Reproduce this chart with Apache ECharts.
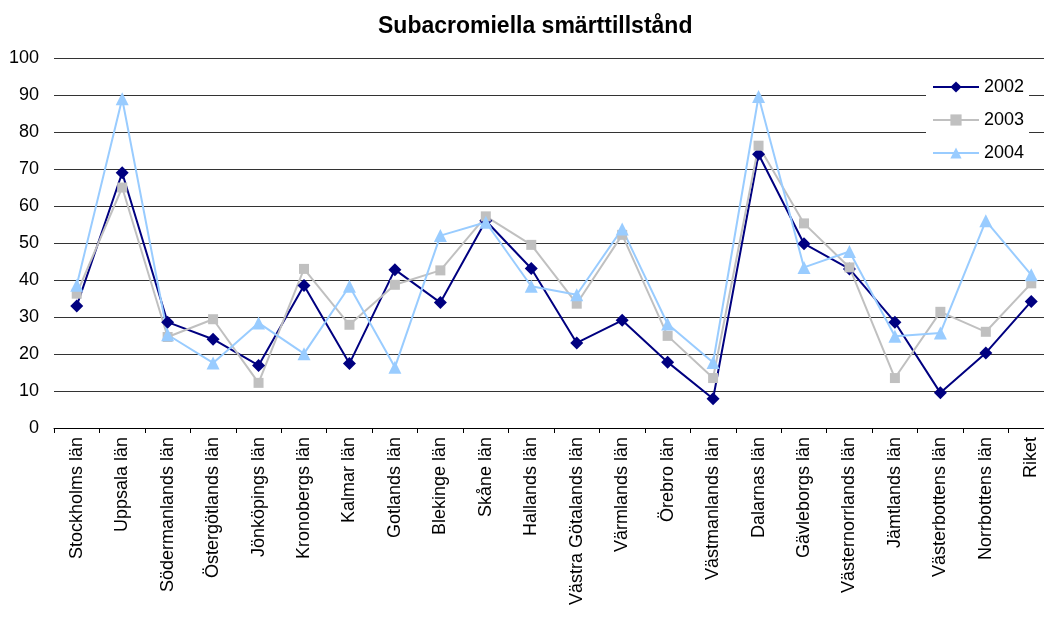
<!DOCTYPE html>
<html>
<head>
<meta charset="utf-8">
<script src="https://cdn.jsdelivr.net/npm/echarts@6/dist/echarts.min.js"></script>
<style>html,body{margin:0;padding:0;background:#fff;overflow:hidden;width:1044px;height:617px;}#chart{width:1064px;height:617px;}</style>
</head>
<body>
<div id="chart"></div>
<script>
const categories = ['Stockholms län','Uppsala län','Södermanlands län','Östergötlands län','Jönköpings län','Kronobergs län','Kalmar län','Gotlands län','Blekinge län','Skåne län','Hallands län','Västra Götalands län','Värmlands län','Örebro län','Västmanlands län','Dalarnas län','Gävleborgs län','Västernorrlands län','Jämtlands län','Västerbottens län','Norrbottens län','Riket'];
const values2002 = [33, 69, 28.6, 24, 16.9, 38.5, 17.4, 42.8, 33.9, 56, 43.1, 23, 29.1, 17.8, 7.9, 74, 49.8, 43, 28.6, 9.5, 20.3, 34.2];
const values2003 = [36.3, 65, 24.6, 29.4, 12.2, 43, 27.9, 38.7, 42.6, 57.2, 49.5, 33.6, 52.2, 24.9, 13.5, 76.3, 55.3, 43.4, 13.5, 31.4, 26, 39.1];
const values2004 = [38.6, 89, 25.2, 17.6, 28.4, 20.1, 38.3, 16.4, 52, 55.6, 38.3, 36, 53.8, 28.1, 17.7, 89.6, 43.4, 47.7, 24.8, 25.7, 56, 41.4];
const yTicks = {min: 0, max: 100, interval: 10};

const chart = echarts.init(document.getElementById('chart'));
const font = '"Liberation Sans", Arial, sans-serif';
function mk(name, data, color, symbol, size) {
  return {
    name, type: 'line', data, symbol, symbolSize: size,
    itemStyle: {color}, lineStyle: {color, width: 2},
    emphasis: {disabled: true}, animation: false
  };
}
chart.setOption({
  animation: false,
  backgroundColor: '#fff',
  title: {
    text: 'Subacromiella smärttillstånd', left: 373, top: 10,
    textStyle: {fontFamily: font, fontSize: 23, fontWeight: 'bold', color: '#000'}
  },
  legend: {
    orient: 'vertical', left: 926, top: 72, padding: [6, 5, 6, 6],
    backgroundColor: '#fff', itemGap: 15, itemWidth: 46, itemHeight: 14,
    textStyle: {fontFamily: font, fontSize: 18, color: '#000'},
    data: ['2002', '2003', '2004']
  },
  grid: {left: 54, top: 58, width: 1000, bottom: 189, containLabel: false, outerBoundsMode: 'none'},
  xAxis: {
    type: 'category', data: categories, boundaryGap: true,
    axisLine: {lineStyle: {color: '#000', width: 1}},
    axisTick: {show: true, length: 5, alignWithLabel: false, lineStyle: {color: '#000'}},
    axisLabel: {rotate: 90, interval: 0, margin: 9, fontFamily: font, fontSize: 18, color: '#000'},
    splitLine: {show: false}
  },
  yAxis: {
    type: 'value', min: yTicks.min, max: yTicks.max, interval: yTicks.interval,
    axisLine: {show: false}, axisTick: {show: false},
    axisLabel: {margin: 15, fontFamily: font, fontSize: 18, color: '#000'},
    splitLine: {lineStyle: {color: '#333', width: 1}}
  },
  series: [
    mk('2002', values2002, '#000080', 'diamond', 13),
    mk('2003', values2003, '#C0C0C0', 'rect', 10),
    mk('2004', values2004, '#99CCFF', 'triangle', 13)
  ]
});
</script>
</body>
</html>
